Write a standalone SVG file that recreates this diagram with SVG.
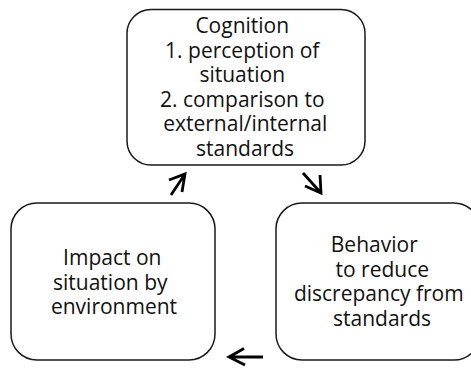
<svg xmlns="http://www.w3.org/2000/svg" width="471" height="368" viewBox="0 0 471 368">
  <style>
    .box { fill: #ffffff; stroke: #1a1a1a; stroke-width: 1.5; }
    .label { font-family: "Open Sans", "Noto Sans", "DejaVu Sans", sans-serif; font-size: 21px; fill: #111111; text-anchor: middle; }
    .arrow { fill: none; stroke: #000000; stroke-width: 2.8; stroke-linecap: butt; stroke-linejoin: miter; }
  </style>
  <rect width="471" height="368" fill="#ffffff"/>

  <g id="node-cognition">
    <rect class="box" x="127" y="9.5" width="238" height="155.5" rx="24" ry="24"/>
    <text class="label">
      <tspan x="245" y="33">Cognition</tspan>
      <tspan x="245" y="57.5">1. perception of</tspan>
      <tspan x="245" y="82">situation</tspan>
      <tspan x="245" y="106.5">2. comparison to</tspan>
      <tspan x="248" y="131">external/internal</tspan>
      <tspan x="245" y="155.5">standards</tspan>
    </text>
  </g>

  <g id="node-behavior">
    <rect class="box" x="276" y="203" width="204" height="157" rx="26" ry="26"/>
    <text class="label">
      <tspan x="377" y="252">Behavior</tspan>
      <tspan x="385" y="276.5">to reduce</tspan>
      <tspan x="381.5" y="301">discrepancy from</tspan>
      <tspan x="382" y="325.5">standards</tspan>
    </text>
  </g>

  <g id="node-impact">
    <rect class="box" x="11" y="203" width="204" height="157" rx="26" ry="26"/>
    <text class="label">
      <tspan x="115" y="265">Impact on</tspan>
      <tspan x="113" y="289.5">situation by</tspan>
      <tspan x="114" y="314">environment</tspan>
    </text>
  </g>

  <g id="connectors">
    <!-- cognition to behavior -->
    <path class="arrow" d="M303,173 L321,193 M320,175 L321,193 L305,186"/>
    <!-- behavior to impact -->
    <path class="arrow" d="M263,357 L229,357 M244,348.5 L229,357 L245,365"/>
    <!-- impact to cognition -->
    <path class="arrow" d="M171,195 L185,174 M169,180 L185,174 L182,192"/>
  </g>
</svg>
